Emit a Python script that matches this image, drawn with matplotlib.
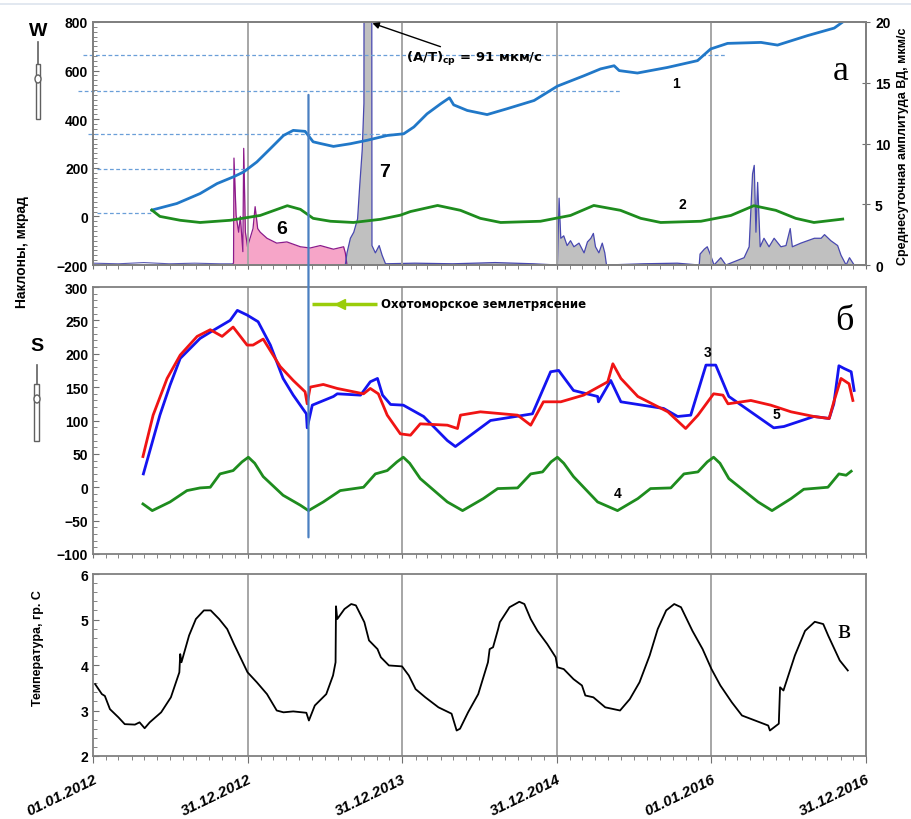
import numpy as np
import pandas as pd
import matplotlib.pyplot as plt
from matplotlib.patches import Rectangle, Ellipse, ConnectionPatch
from matplotlib.lines import Line2D

plt.rcParams['font.family'] = ['Liberation Sans', 'DejaVu Sans']
plt.rcParams['mathtext.fontset'] = 'dejavusans'

W, H = 912, 820

# x axis in days since 01.01.2012
tick_days = [0, 365, 730, 1095, 1461, 1826]
tick_labels = ['01.01.2012', '31.12.2012', '31.12.2013', '31.12.2014', '01.01.2016', '31.12.2016']
quake_day = 509  # 24.05.2013

# panel a: tilts W (1), and curve 2, (day, value)
tilt_1 = [(139, 26), (198, 53), (253, 94), (293, 135), (332, 163), (356, 183), (387, 224),
          (419, 279), (450, 333), (473, 354), (501, 350), (520, 307), (537, 300), (568, 288),
          (608, 299), (647, 313), (695, 333), (734, 340), (758, 368), (789, 422), (821, 463),
          (842, 488), (852, 459), (884, 436), (931, 419), (978, 443), (1042, 477), (1097, 536),
          (1160, 579), (1199, 607), (1231, 620), (1243, 600), (1286, 590), (1357, 613),
          (1428, 641), (1459, 689), (1499, 712), (1578, 716), (1617, 705), (1688, 744),
          (1751, 775), (1771, 800)]
tilt_2 = [(139, 26), (158, 0), (206, -16), (253, -25), (324, -16), (395, 4), (459, 44),
          (490, 29), (520, -8), (561, -20), (615, -25), (679, -12), (726, 5), (750, 20),
          (814, 45), (868, 25), (915, -8), (963, -25), (1057, -20), (1128, 4), (1183, 45),
          (1246, 25), (1294, -8), (1341, -25), (1436, -20), (1507, 4), (1561, 44), (1613, 25),
          (1660, -8), (1703, -25), (1771, -11)]
# horizontal reference levels (value, from day, to day)
levels = [(665, -24, 1495), (518, -35, 1246), (340, -12, 733), (197, 10, 364), (12, 10, 139)]

# daily mean amplitude (right axis), curves 6 and 7
amp_base = [(0, 0.15), (60, 0.1), (120, 0.2), (180, 0.1), (240, 0.15), (300, 0.1), (330, 0.1)]
amp_6 = [(330, 0), (332, 0.2), (333, 8.8), (338, 4.1), (344, 2.7), (348, 4.0), (354, 1.1),
         (356, 9.6), (360, 2.7), (365, 1.5), (371, 2.2), (378, 3.0), (383, 4.8), (389, 3.0),
         (395, 2.7), (411, 2.2), (434, 1.8), (458, 1.9), (490, 1.5), (513, 1.4), (537, 1.6),
         (568, 1.3), (592, 1.5), (596, 1.0), (600, 0)]
amp_7 = [(596, 0), (600, 1.0), (608, 2.2), (616, 2.7), (625, 3.8), (630, 6.5), (636, 9.5),
         (640, 13.3), (642, 91), (657, 91), (659, 1.6), (667, 1.0), (676, 1.6), (683, 0.8),
         (691, 0.1), (760, 0.15), (850, 0.1), (950, 0.2), (1040, 0.1), (1097, 0), (1101, 5.5),
         (1105, 2.2), (1112, 2.4), (1120, 1.6), (1128, 2.0), (1136, 1.5), (1148, 1.8),
         (1160, 1.0), (1168, 1.9), (1176, 2.2), (1182, 2.6), (1187, 1.5), (1195, 1.0),
         (1203, 1.8), (1209, 1.0), (1213, 0), (1300, 0.1), (1380, 0.15), (1432, 0),
         (1434, 0.9), (1444, 1.3), (1451, 1.5), (1459, 0.8), (1467, 0), (1483, 0.6),
         (1495, 0), (1538, 0.6), (1550, 1.5), (1558, 7.5), (1562, 8.2), (1566, 2.7),
         (1570, 6.8), (1576, 1.5), (1585, 2.2), (1597, 1.5), (1609, 2.2), (1625, 1.5),
         (1637, 1.6), (1647, 3.0), (1652, 1.5), (1672, 1.8), (1688, 2.0), (1704, 2.2),
         (1720, 2.2), (1728, 2.5), (1743, 2.0), (1759, 1.6), (1767, 0.8), (1779, 0),
         (1787, 0.6), (1798, 0), (1826, 0)]

# panel b: tilts S (3), curve 4, curve 5
tilt_3 = [(119, 20), (158, 108), (182, 153), (206, 193), (253, 223), (284, 235), (324, 250),
          (341, 265), (364, 258), (390, 248), (419, 213), (449, 163), (473, 138), (504, 110),
          (506, 89), (518, 123), (568, 136), (577, 140), (632, 138), (655, 158), (672, 163),
          (684, 138), (703, 124), (733, 123), (781, 106), (837, 70), (856, 61), (939, 100),
          (1038, 110), (1081, 173), (1100, 175), (1135, 145), (1192, 136), (1194, 128),
          (1223, 160), (1247, 128), (1348, 118), (1381, 106), (1412, 108), (1448, 183),
          (1471, 183), (1502, 136), (1608, 89), (1632, 91), (1703, 106), (1739, 103),
          (1750, 125), (1762, 182), (1774, 178), (1791, 173), (1798, 145)]
tilt_5 = [(118, 46), (142, 108), (175, 163), (206, 198), (246, 226), (277, 236), (305, 226),
          (331, 240), (364, 213), (378, 213), (402, 222), (442, 181), (473, 160), (501, 143),
          (506, 125), (513, 150), (544, 154), (577, 148), (639, 140), (655, 148), (674, 140),
          (695, 108), (726, 80), (750, 78), (773, 95), (837, 93), (861, 88), (868, 108),
          (915, 113), (1003, 108), (1034, 93), (1064, 128), (1105, 128), (1159, 138),
          (1216, 158), (1228, 185), (1247, 163), (1287, 136), (1358, 113), (1400, 88),
          (1429, 108), (1466, 140), (1488, 138), (1500, 125), (1554, 130), (1601, 123),
          (1649, 113), (1703, 106), (1739, 103), (1750, 128), (1767, 163), (1786, 155),
          (1795, 130)]
tilt_4 = [(118, -25), (140, -35), (182, -22), (222, -5), (253, -1), (277, 0), (300, 20),
          (331, 25), (352, 38), (367, 45), (382, 36), (402, 16), (449, -12), (490, -27),
          (509, -35), (544, -22), (584, -5), (639, 0), (667, 20), (695, 25), (718, 38),
          (733, 45), (748, 36), (773, 13), (837, -22), (873, -35), (922, -17), (956, -2),
          (1003, -1), (1034, 20), (1062, 23), (1082, 38), (1097, 45), (1112, 36), (1135, 16),
          (1192, -22), (1239, -35), (1287, -17), (1317, -2), (1365, -1), (1396, 20),
          (1429, 23), (1451, 38), (1466, 45), (1481, 36), (1502, 13), (1571, -22),
          (1604, -35), (1649, -17), (1679, -3), (1736, 0), (1762, 20), (1779, 18), (1791, 24)]

# panel v: temperature
temp = [(5, 3.58), (21, 3.36), (28, 3.32), (40, 3.03), (60, 2.85), (75, 2.70), (99, 2.69),
        (110, 2.74), (122, 2.61), (134, 2.74), (161, 2.96), (184, 3.29), (204, 3.84),
        (206, 4.24), (209, 4.06), (227, 4.65), (243, 5.01), (262, 5.20), (278, 5.20),
        (298, 5.01), (317, 4.79), (333, 4.46), (348, 4.17), (365, 3.84), (387, 3.62),
        (411, 3.36), (434, 3.00), (450, 2.96), (473, 2.98), (504, 2.95), (510, 2.78),
        (524, 3.11), (551, 3.36), (567, 3.77), (573, 4.06), (574, 5.29), (577, 5.01),
        (594, 5.23), (610, 5.34), (621, 5.31), (641, 4.94), (652, 4.54), (672, 4.35),
        (680, 4.17), (699, 3.99), (730, 3.97), (746, 3.77), (762, 3.47), (785, 3.29),
        (816, 3.07), (847, 2.93), (859, 2.56), (867, 2.60), (886, 2.96), (910, 3.36),
        (933, 4.06), (937, 4.35), (945, 4.39), (957, 4.79), (961, 4.94), (984, 5.27),
        (1007, 5.39), (1019, 5.34), (1034, 5.01), (1050, 4.75), (1073, 4.46), (1093, 4.17),
        (1097, 3.95), (1112, 3.91), (1135, 3.69), (1155, 3.55), (1163, 3.33), (1182, 3.29),
        (1210, 3.07), (1245, 3.00), (1268, 3.25), (1291, 3.62), (1315, 4.21), (1334, 4.79),
        (1354, 5.20), (1373, 5.34), (1389, 5.27), (1416, 4.75), (1440, 4.35), (1461, 3.91),
        (1482, 3.55), (1509, 3.18), (1533, 2.89), (1564, 2.78), (1595, 2.67), (1599, 2.56),
        (1620, 2.71), (1623, 3.51), (1631, 3.44), (1658, 4.21), (1682, 4.75), (1705, 4.95),
        (1725, 4.90), (1737, 4.64), (1748, 4.42), (1764, 4.10), (1783, 3.88)]


def xy(pairs):
    a = np.array(pairs, dtype=float)
    return a[:, 0], a[:, 1]


def fx(px):
    return px / W


def fy(py):
    return 1 - py / H


month_days = (pd.date_range('2012-01-01', '2016-12-31', freq='MS') - pd.Timestamp('2012-01-01')).days
GRID = '#a6a6a6'
SPINE = '#808080'

fig = plt.figure(figsize=(W / 100, H / 100), dpi=100)
ax1 = fig.add_axes([fx(93), fy(266), 773 / W, 243 / H])
ax2 = fig.add_axes([fx(93), fy(555), 773 / W, 267 / H])
ax3 = fig.add_axes([fx(93), fy(757), 773 / W, 182 / H])


def style(ax, ymin, ymax, major, minor):
    ax.set_xlim(0, 1826)
    ax.set_ylim(ymin, ymax)
    for s in ax.spines.values():
        s.set_color(SPINE)
        s.set_linewidth(1.3)
    ax.set_xticks(tick_days)
    ax.set_xticks(month_days, minor=True)
    ax.set_yticks(np.arange(ymin, ymax + major / 2, major))
    ax.set_yticks(np.arange(ymin, ymax + minor / 2, minor), minor=True)
    ax.tick_params(axis='x', which='both', direction='out', color='#707070', length=3, labelbottom=False)
    ax.tick_params(axis='y', which='both', direction='in', color='#707070', length=4, labelsize=10)
    ax.tick_params(axis='y', which='minor', length=3)
    for lab in ax.get_yticklabels():
        lab.set_fontweight('bold')
    for d in tick_days[1:-1]:
        ax.axvline(d, color=GRID, lw=1.4, zorder=0)


# ---- panel a
ax1r = ax1.twinx()
style(ax1, -200, 800, 200, 20)
ax1r.set_ylim(0, 20)
ax1r.set_yticks([0, 5, 10, 15, 20])
ax1r.tick_params(axis='y', direction='inout', length=6, color='#707070', labelsize=10)
for lab in ax1r.get_yticklabels():
    lab.set_fontweight('bold')
for s in ax1r.spines.values():
    s.set_color(SPINE)
    s.set_linewidth(1.3)

bx, by = xy(amp_base)
ax1r.plot(bx, by, color='#5a5ab4', lw=0.8)
px6, py6 = xy(amp_6)
ax1r.fill_between(px6, py6, color='#f6a5c8', lw=0)
ax1r.plot(px6, py6, color='#8b1a8b', lw=0.9)
px7, py7 = xy(amp_7)
ax1r.fill_between(px7, py7, color='#c0c0c0', lw=0)
ax1r.plot(px7, py7, color='#4848b0', lw=0.9)

ax1.set_zorder(ax1r.get_zorder() + 1)
ax1.patch.set_visible(False)

for val, d0, d1 in levels:
    ax1.hlines(val, d0, d1, colors='#6a9fd8', linestyles=(0, (3, 2)), lw=0.9, clip_on=False)
x1, y1 = xy(tilt_1)
ax1.plot(x1, y1, color='#2178c8', lw=2.0)
x2, y2 = xy(tilt_2)
ax1.plot(x2, y2, color='#1e8c1e', lw=2.0)

ax1.text(1377, 549, '1', fontsize=10, fontweight='bold', ha='center', va='center')
ax1.text(1391, 49, '2', fontsize=10, fontweight='bold', ha='center', va='center')
ax1.text(445, -49, '6', fontsize=14, fontweight='bold', ha='center', va='center')
ax1.text(688, 184, '7', fontsize=14, fontweight='bold', ha='center', va='center')
ax1.text(1767, 600, 'а', fontsize=26, family='Liberation Serif', ha='center', va='center')
ax1.annotate(r'(A/T)$_{\mathregular{ср}}$ = 91 мкм/с', xy=(660, 795), xytext=(740, 650),
             fontsize=9.5, fontweight='bold', family='DejaVu Sans', ha='left', va='center',
             arrowprops=dict(arrowstyle='-|>', color='black', lw=1.0, shrinkA=0, shrinkB=0),
             annotation_clip=False)

# ---- panel b
style(ax2, -100, 300, 50, 10)
x3, y3 = xy(tilt_3)
ax2.plot(x3, y3, color='#1414f0', lw=2.0)
x5, y5 = xy(tilt_5)
ax2.plot(x5, y5, color='#f01414', lw=2.0)
x4, y4 = xy(tilt_4)
ax2.plot(x4, y4, color='#1e8c1e', lw=2.0)
ax2.text(1452, 202, '3', fontsize=10, fontweight='bold', ha='center', va='center')
ax2.text(1239, -8, '4', fontsize=10, fontweight='bold', ha='center', va='center')
ax2.text(1615, 109, '5', fontsize=10, fontweight='bold', ha='center', va='center')
ax2.text(1774, 250, 'б', fontsize=26, family='Liberation Serif', ha='center', va='center')
ax2.plot([518, 672], [275, 275], color='#9acd0a', lw=2.5, solid_capstyle='butt')
ax2.plot([583], [275], marker='<', color='#9acd0a', ms=7)
ax2.text(680, 275, 'Охотоморское землетрясение', fontsize=8.5, fontweight='bold',
         family='DejaVu Sans', ha='left', va='center')

# ---- panel v
style(ax3, 2, 6, 1, 0.2)
xt, yt = xy(temp)
ax3.plot(xt, yt, color='black', lw=1.3)
ax3.text(1774, 4.75, 'в', fontsize=20, family='Liberation Serif', ha='center', va='center')
ax3.tick_params(axis='x', which='major', labelbottom=True, length=5, pad=6)
ax3.set_xticklabels(tick_labels, rotation=26, ha='right', va='top', rotation_mode='anchor',
                    fontsize=11, fontweight='bold', fontstyle='italic')

# earthquake vertical line across panels a and b
con = ConnectionPatch(xyA=(quake_day, 500), coordsA=ax1.transData,
                      xyB=(quake_day, -75), coordsB=ax2.transData,
                      color='#4a7fc1', lw=1.6, zorder=5)
fig.add_artist(con)

# axis titles
fig.text(fx(22), fy(252), 'Наклоны, мкрад', rotation=90, ha='center', va='center',
         fontsize=10, fontweight='bold')
fig.text(fx(903), fy(146), 'Среднесуточная амплитуда ВД, мкм/с', rotation=90,
         ha='center', va='center', fontsize=9, fontweight='bold')
fig.text(fx(38), fy(648), 'Температура, гр. С', rotation=90, ha='center', va='center',
         fontsize=9, fontweight='bold')


# component markers W and S with a pen-like icon
def pen(cx, label_y, top, body, bot, knot, label):
    fig.text(fx(cx), fy(label_y), label, ha='center', va='center', fontsize=14, fontweight='bold')
    fig.add_artist(Line2D([fx(cx)] * 2, [fy(top), fy(body)], color='#606060', lw=1.2))
    fig.add_artist(Rectangle((fx(cx - 2.5), fy(bot)), 5 / W, (bot - body) / H,
                             facecolor='white', edgecolor='#606060', lw=1.0))
    fig.add_artist(Ellipse((fx(cx), fy(knot)), 6 / W, 8 / H,
                           facecolor='white', edgecolor='#606060', lw=1.0))


pen(38, 31, 43, 65, 120, 80, 'W')
pen(37, 347, 366, 385, 442, 400, 'S')

fig.add_artist(Line2D([0, 1], [fy(5), fy(5)], color='#dde4ee', lw=1.2))

fig.savefig('out.png', dpi=100)
